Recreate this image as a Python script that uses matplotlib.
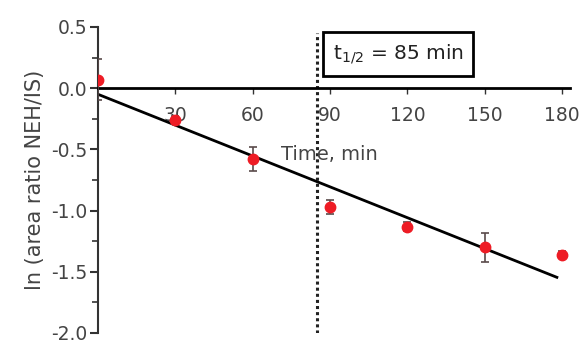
import numpy as np
import matplotlib.pyplot as plt

plt.rcParams['font.family'] = ['DejaVu Sans']

# data
time_min = [0, 30, 60, 90, 120, 150, 180]
ln_ratio = [0.07, -0.26, -0.58, -0.97, -1.13, -1.30, -1.36]
ln_err = [0.17, 0.03, 0.10, 0.06, 0.04, 0.12, 0.03]
fit_t = [0, 178]
fit_intercept = -0.05
fit_slope = -0.0084
t_half = 85
x_ticks = [30, 60, 90, 120, 150, 180]
y_ticks = [0.5, 0.0, -0.5, -1.0, -1.5, -2.0]

fig = plt.figure(figsize=(5.88, 3.46), dpi=100)
ax = fig.add_axes([0.1667, 0.0376, 0.8023, 0.8844])

txt = '#444444'

# fitted line
fit_y = [fit_intercept + fit_slope * t for t in fit_t]
ax.plot(fit_t, fit_y, color='black', lw=2, zorder=3)

# data with error bars
ax.errorbar(time_min, ln_ratio, yerr=ln_err, fmt='o', color='#ee1c25',
            ms=7.5, ecolor='#5a4a4a', elinewidth=1.2, capsize=3, capthick=1.2,
            zorder=4)

# half-life marker
ax.axvline(t_half, ymin=0, ymax=0.98, color='#222222', lw=2.2,
           linestyle=(0, (1, 1)), zorder=2)
ax.text(t_half + 6, 0.28, r'$\mathregular{t_{1/2}}$ = 85 min', fontsize=14.5,
        color='#222222', va='center', ha='left',
        bbox=dict(boxstyle='square,pad=0.5', fc='white', ec='black', lw=2))

ax.set_xlim(0, 183)
ax.set_ylim(-2.0, 0.5)

ax.spines['top'].set_visible(False)
ax.spines['right'].set_visible(False)
ax.spines['bottom'].set_position(('data', 0))
ax.spines['bottom'].set_linewidth(2)
ax.spines['left'].set_linewidth(1.5)
ax.spines['left'].set_color('#333333')

ax.set_xticks(x_ticks)
ax.set_yticks(y_ticks)
ax.set_yticklabels(['%.1f' % v for v in y_ticks])
ax.set_yticks(np.arange(-1.75, 0.5, 0.5), minor=True)
ax.tick_params(axis='x', direction='out', length=4, width=1, colors='#333333',
               labelcolor=txt, labelsize=13.5, pad=9)
ax.tick_params(axis='y', which='major', direction='out', length=6, width=1.5,
               colors='#333333', labelcolor=txt, labelsize=13.5, pad=2)
ax.tick_params(axis='y', which='minor', direction='out', length=4, width=1.2,
               colors='#333333')

ax.set_ylabel('ln (area ratio NEH/IS)', fontsize=15, color=txt, labelpad=4)
ax.text(71, -0.54, 'Time, min', fontsize=14, color=txt, ha='left', va='center')

fig.savefig('out.png', dpi=100)
